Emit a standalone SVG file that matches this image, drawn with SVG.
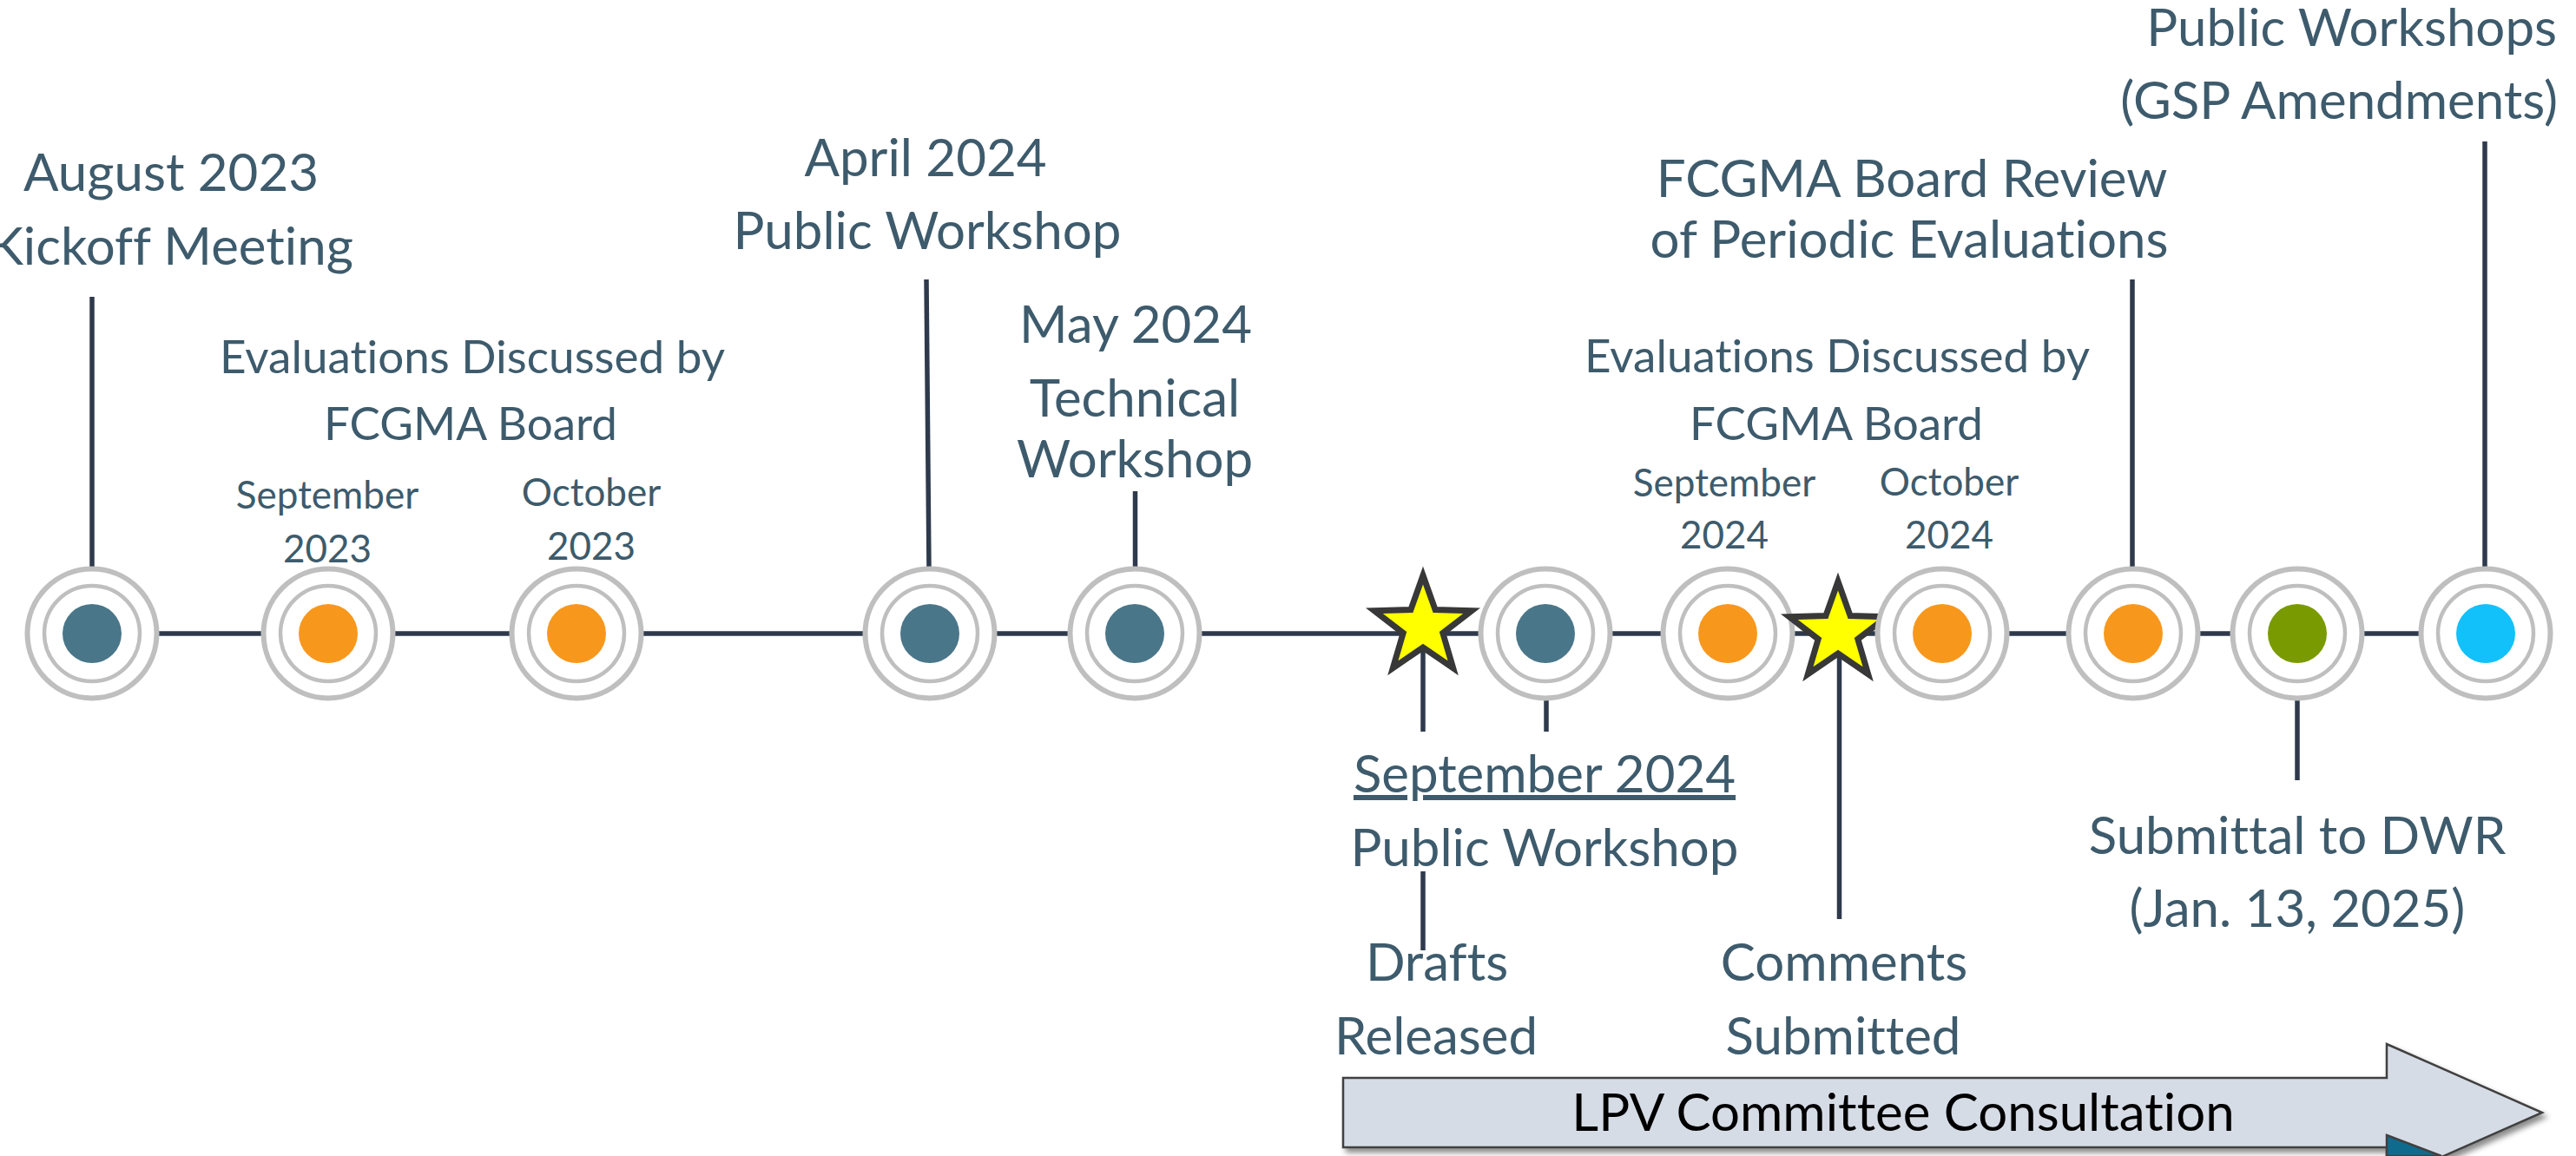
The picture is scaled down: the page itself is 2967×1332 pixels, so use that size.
<svg xmlns="http://www.w3.org/2000/svg" xmlns:xlink="http://www.w3.org/1999/xlink" width="2967" height="1332" viewBox="0 0 2967 1332">
<style>
text{font-variant-ligatures:none;font-feature-settings:"liga" 0,"dlig" 0}
.lbl{font-family:Lato,"Liberation Sans",sans-serif;fill:#3D5B6C;text-anchor:middle}
.l60{font-size:60px}
.l53{font-size:53px}
.l44{font-size:44px}
.conn{stroke:#2E3A4C;stroke-width:5.5;fill:none}
.ro{fill:#FFFFFF;stroke:#BFBFBF;stroke-width:6}
.ri{fill:none;stroke:#BFBFBF;stroke-width:4.5}
.star{fill:#FFFF00;stroke:#383838;stroke-width:7;stroke-linejoin:miter}
.teal{fill:#4A7689}
.orange{fill:#F7981D}
.green{fill:#7A9A01}
.cyan{fill:#12C1FA}
</style>
<defs>
<g id="target">
<circle r="74.5" class="ro"/>
<circle r="55" class="ri"/>
</g>
<polygon id="starshape" class="star" points="0,-59 14.11,-19.42 56.11,-18.23 22.83,7.42 34.68,47.73 0,24 -34.68,47.73 -22.83,7.42 -56.11,-18.23 -14.11,-19.42"/>
<filter id="shadow" x="-5%" y="-30%" width="110%" height="160%">
<feDropShadow dx="4" dy="5" stdDeviation="3" flood-color="#000" flood-opacity="0.45"/>
</filter>
</defs>
<rect width="2967" height="1332" fill="#FFFFFF"/>

<g id="consultation-arrow">
<polygon points="1547,1242 2749,1242 2749,1203 2928,1282 2749,1361 2749,1322 1547,1322" fill="#D6DCE5" stroke="#404040" stroke-width="2.5" filter="url(#shadow)"/>
<polygon points="2749,1308 2812,1332 2749,1332" fill="#0F6B8E" stroke="#404040" stroke-width="2.5"/>
<text x="2192" y="1303" font-family="Lato,'Liberation Sans',sans-serif" font-size="60" fill="#000000" text-anchor="middle">LPV Committee Consultation</text>
</g>

<g id="connectors">
<line class="conn" x1="106" y1="730" x2="2863" y2="730"/>
<line class="conn" x1="106" y1="342" x2="106" y2="656"/>
<line class="conn" x1="1067" y1="322" x2="1070" y2="656"/>
<line class="conn" x1="1307.5" y1="566" x2="1307.5" y2="656"/>
<line class="conn" x1="1639" y1="740" x2="1639" y2="843"/>
<line class="conn" x1="1781" y1="800" x2="1781" y2="843"/>
<line class="conn" x1="1639" y1="1004" x2="1639" y2="1095"/>
<line class="conn" x1="2118.5" y1="740" x2="2118.5" y2="1059"/>
<line class="conn" x1="2456" y1="322" x2="2456" y2="656"/>
<line class="conn" x1="2646" y1="800" x2="2646" y2="899"/>
<line class="conn" x1="2862" y1="163" x2="2862" y2="656"/>
</g>

<g id="node-aug-2023">
<use xlink:href="#target" x="106" y="730"/>
<circle cx="106" cy="730" r="34" class="teal"/>
<text class="lbl l60" x="197" y="220">August 2023</text>
<text class="lbl l60" x="197" y="305">Kickoff Meeting</text>
</g>

<g id="label-eval-2023">
<text class="lbl l53" x="544" y="430">Evaluations Discussed by</text>
<text class="lbl l53" x="542" y="507">FCGMA Board</text>
</g>

<g id="node-sep-2023">
<use xlink:href="#target" x="378" y="730"/>
<circle cx="378" cy="730" r="34" class="orange"/>
<text class="lbl l44" x="377" y="586">September</text>
<text class="lbl l44" x="377" y="648">2023</text>
</g>

<g id="node-oct-2023">
<use xlink:href="#target" x="664" y="730"/>
<circle cx="664" cy="730" r="34" class="orange"/>
<text class="lbl l44" x="681" y="583">October</text>
<text class="lbl l44" x="681" y="645">2023</text>
</g>

<g id="node-apr-2024">
<use xlink:href="#target" x="1071" y="730"/>
<circle cx="1071" cy="730" r="34" class="teal"/>
<text class="lbl l60" x="1066" y="203">April 2024</text>
<text class="lbl l60" x="1068" y="287">Public Workshop</text>
</g>

<g id="node-may-2024">
<use xlink:href="#target" x="1307" y="730"/>
<circle cx="1307" cy="730" r="34" class="teal"/>
<text class="lbl l60" x="1308" y="395">May 2024</text>
<text class="lbl l60" x="1307" y="480">Technical</text>
<text class="lbl l60" x="1307" y="550">Workshop</text>
</g>

<g id="star-drafts">
<use xlink:href="#starshape" x="1639" y="722"/>
<text class="lbl l60" x="1655" y="1130">Drafts</text>
<text class="lbl l60" x="1654" y="1215">Released</text>
</g>

<g id="node-sep-2024-workshop">
<use xlink:href="#target" x="1780" y="730"/>
<circle cx="1780" cy="730" r="34" class="teal"/>
<text class="lbl l60" x="1779" y="913" text-decoration="underline">September 2024</text>
<text class="lbl l60" x="1779" y="998">Public Workshop</text>
</g>

<g id="label-eval-2024">
<text class="lbl l53" x="2116" y="429">Evaluations Discussed by</text>
<text class="lbl l53" x="2115" y="507">FCGMA Board</text>
</g>

<g id="node-sep-2024">
<use xlink:href="#target" x="1990" y="730"/>
<circle cx="1990" cy="730" r="34" class="orange"/>
<text class="lbl l44" x="1986" y="572">September</text>
<text class="lbl l44" x="1986" y="632">2024</text>
</g>

<g id="star-comments">
<use xlink:href="#starshape" x="2117" y="729"/>
<text class="lbl l60" x="2124" y="1130">Comments</text>
<text class="lbl l60" x="2123" y="1215">Submitted</text>
</g>

<g id="node-oct-2024">
<use xlink:href="#target" x="2237" y="730"/>
<circle cx="2237" cy="730" r="34" class="orange"/>
<text class="lbl l44" x="2245" y="571">October</text>
<text class="lbl l44" x="2245" y="632">2024</text>
</g>

<g id="node-board-review">
<use xlink:href="#target" x="2457" y="730"/>
<circle cx="2457" cy="730" r="34" class="orange"/>
<text class="lbl l60" x="2202" y="227">FCGMA Board Review</text>
<text class="lbl l60" x="2199" y="297">of Periodic Evaluations</text>
</g>

<g id="node-submittal">
<use xlink:href="#target" x="2646" y="730"/>
<circle cx="2646" cy="730" r="34" class="green"/>
<text class="lbl l60" x="2646" y="984">Submittal to DWR</text>
<text class="lbl l60" x="2646" y="1068">(Jan. 13, 2025)</text>
</g>

<g id="node-gsp-workshops">
<use xlink:href="#target" x="2863" y="730"/>
<circle cx="2863" cy="730" r="34" class="cyan"/>
<text class="lbl l60" x="2945" y="53" style="text-anchor:end">Public Workshops</text>
<text class="lbl l60" x="2946" y="137" style="text-anchor:end">(GSP Amendments)</text>
</g>
</svg>
